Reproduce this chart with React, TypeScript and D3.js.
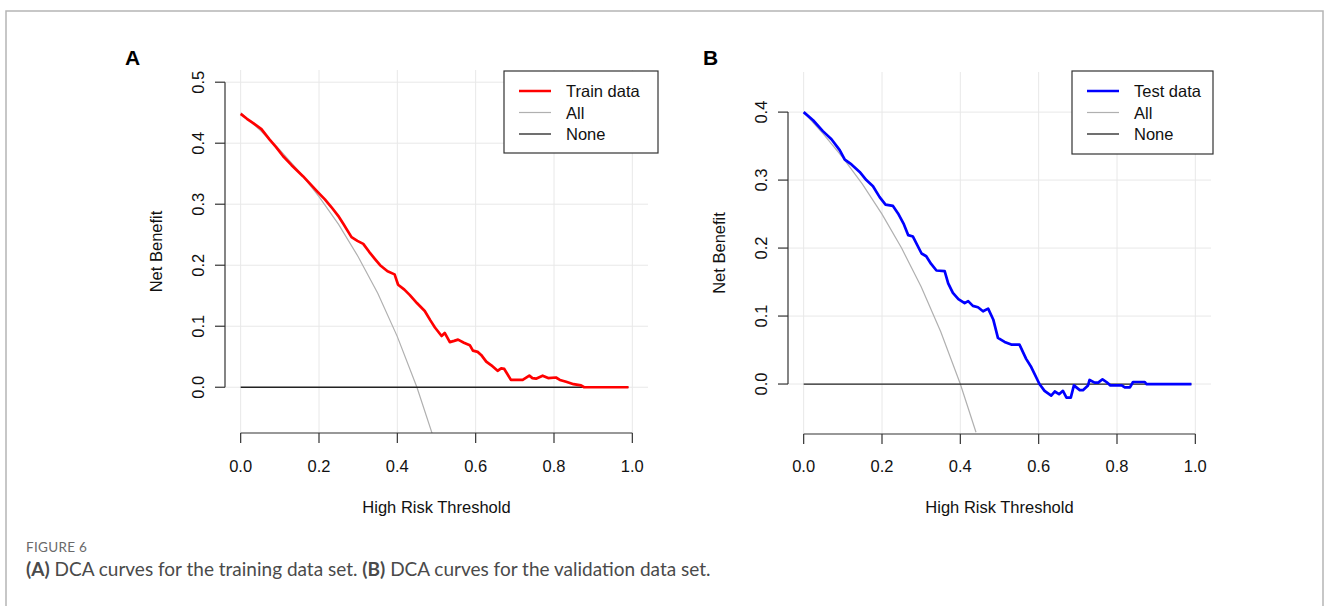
import React from 'react';
import * as d3 from 'd3';

// thresholds / net benefit
const xTicks = [0, 0.2, 0.4, 0.6, 0.8, 1.0];
const yTicksTrain = [0, 0.1, 0.2, 0.3, 0.4, 0.5];
const yTicksTest = [0, 0.1, 0.2, 0.3, 0.4];

const trainModel: [number, number][] = [
  [0, 0.448], [0.016, 0.44], [0.032, 0.433], [0.053, 0.423], [0.074, 0.406], [0.09, 0.394],
  [0.108, 0.379], [0.13, 0.364], [0.159, 0.346], [0.178, 0.333], [0.194, 0.322], [0.215, 0.308],
  [0.232, 0.295], [0.249, 0.281], [0.262, 0.268], [0.283, 0.246], [0.298, 0.24], [0.313, 0.235],
  [0.328, 0.222], [0.343, 0.21], [0.356, 0.2], [0.375, 0.19], [0.393, 0.185], [0.402, 0.168],
  [0.418, 0.16], [0.432, 0.151], [0.45, 0.138], [0.47, 0.125], [0.484, 0.11], [0.496, 0.098],
  [0.513, 0.084], [0.521, 0.089], [0.534, 0.074], [0.545, 0.076], [0.555, 0.078], [0.57, 0.073],
  [0.585, 0.069], [0.593, 0.06], [0.605, 0.058], [0.614, 0.053], [0.627, 0.042], [0.64, 0.036],
  [0.656, 0.027], [0.665, 0.031], [0.673, 0.03], [0.69, 0.012], [0.72, 0.012], [0.737, 0.019],
  [0.745, 0.015], [0.754, 0.014], [0.771, 0.019], [0.785, 0.015], [0.805, 0.016], [0.815, 0.012],
  [0.831, 0.009], [0.85, 0.005], [0.869, 0.003], [0.877, 0.0], [0.99, 0.0],
];

const trainAll: [number, number][] = [
  [0, 0.45], [0.05, 0.421], [0.1, 0.389], [0.15, 0.353], [0.2, 0.3125], [0.25, 0.267],
  [0.3, 0.214], [0.35, 0.154], [0.4, 0.083], [0.45, 0.0], [0.49, -0.078],
];

const testModel: [number, number][] = [
  [0, 0.4], [0.024, 0.388], [0.049, 0.372], [0.071, 0.36], [0.092, 0.344], [0.105, 0.33],
  [0.122, 0.323], [0.143, 0.312], [0.16, 0.3], [0.177, 0.291], [0.194, 0.275], [0.209, 0.264],
  [0.228, 0.262], [0.241, 0.251], [0.255, 0.236], [0.267, 0.219], [0.279, 0.217], [0.301, 0.192],
  [0.313, 0.188], [0.325, 0.177], [0.339, 0.167], [0.36, 0.166], [0.369, 0.148], [0.381, 0.134],
  [0.395, 0.125], [0.411, 0.119], [0.42, 0.122], [0.432, 0.115], [0.445, 0.113], [0.458, 0.107],
  [0.471, 0.111], [0.484, 0.095], [0.496, 0.068], [0.513, 0.062], [0.53, 0.058], [0.551, 0.058],
  [0.568, 0.037], [0.581, 0.025], [0.602, 0.0], [0.615, -0.01], [0.632, -0.017], [0.641, -0.011],
  [0.652, -0.015], [0.662, -0.01], [0.671, -0.02], [0.682, -0.02], [0.69, -0.002], [0.705, -0.009],
  [0.713, -0.009], [0.726, -0.002], [0.73, 0.006], [0.743, 0.002], [0.752, 0.002], [0.763, 0.007],
  [0.773, 0.003], [0.783, -0.002], [0.812, -0.002], [0.82, -0.005], [0.833, -0.005], [0.841, 0.003],
  [0.871, 0.003], [0.875, 0.0], [0.99, 0.0],
];

const testAll: [number, number][] = [
  [0, 0.4], [0.05, 0.368], [0.1, 0.333], [0.15, 0.294], [0.2, 0.25], [0.25, 0.2],
  [0.3, 0.143], [0.35, 0.077], [0.4, 0.0], [0.44, -0.071],
];

const noneLine: [number, number][] = [[0, 0], [0.99, 0]];

const FONT = "'Liberation Sans', Arial, sans-serif";
const FS = 16.5;

type PanelProps = {
  id: string;
  tag: string;
  tagX: number;
  box: { left: number; right: number; top: number; bottom: number };
  yDomain: [number, number];
  yTicks: number[];
  model: [number, number][];
  all: [number, number][];
  color: string;
  name: string;
  legend: { x: number; y: number; w: number; h: number };
};

const Panel = ({ id, tag, tagX, box, yDomain, yTicks, model, all, color, name, legend }: PanelProps) => {
  const x = d3.scaleLinear().domain([-0.04, 1.04]).range([box.left, box.right]);
  const y = d3.scaleLinear().domain(yDomain).range([box.bottom, box.top]);
  const line = d3.line<[number, number]>().x(d => x(d[0])).y(d => y(d[1]));
  const yMax = yTicks[yTicks.length - 1];
  const rows = [
    { label: name, stroke: color, w: 2.5 },
    { label: 'All', stroke: '#b0b0b0', w: 1.2 },
    { label: 'None', stroke: '#222', w: 1.3 },
  ];

  return (
    <g fontFamily={FONT}>
      <defs>
        <clipPath id={`clip-${id}`}>
          <rect x={box.left} y={box.top} width={box.right - box.left} height={box.bottom - box.top} />
        </clipPath>
      </defs>
      <text x={tagX} y={65} fontSize={21} fontWeight="bold" fill="#000">{tag}</text>

      {/* grid */}
      {xTicks.map(t => (
        <line key={'gx' + t} x1={x(t)} x2={x(t)} y1={box.top} y2={box.bottom} stroke="#e8e8e8" strokeWidth={1} />
      ))}
      {yTicks.map(t => (
        <line key={'gy' + t} x1={box.left} x2={box.right} y1={y(t)} y2={y(t)} stroke="#e8e8e8" strokeWidth={1} />
      ))}

      {/* curves */}
      <g clipPath={`url(#clip-${id})`}>
        <path d={line(all) || ''} fill="none" stroke="#b0b0b0" strokeWidth={1.2} />
        <path d={line(noneLine) || ''} fill="none" stroke="#222" strokeWidth={1.3} />
        <path d={line(model) || ''} fill="none" stroke={color} strokeWidth={2.7} strokeLinejoin="round" />
      </g>

      {/* y axis */}
      <line x1={box.left} x2={box.left} y1={y(0)} y2={y(yMax)} stroke="#333" strokeWidth={1.2} />
      {yTicks.map(t => (
        <g key={'yt' + t}>
          <line x1={box.left - 10} x2={box.left} y1={y(t)} y2={y(t)} stroke="#333" strokeWidth={1.2} />
          <text
            transform={`translate(${box.left - 21},${y(t)}) rotate(-90)`}
            textAnchor="middle"
            fontSize={FS}
            fill="#111"
          >
            {t.toFixed(1)}
          </text>
        </g>
      ))}
      <text
        transform={`translate(${box.left - 63},${(box.top + box.bottom) / 2}) rotate(-90)`}
        textAnchor="middle"
        fontSize={FS}
        fill="#111"
      >
        Net Benefit
      </text>

      {/* x axis */}
      <line x1={x(0)} x2={x(1)} y1={box.bottom} y2={box.bottom} stroke="#333" strokeWidth={1.2} />
      {xTicks.map(t => (
        <g key={'xt' + t}>
          <line x1={x(t)} x2={x(t)} y1={box.bottom} y2={box.bottom + 10} stroke="#333" strokeWidth={1.2} />
          <text x={x(t)} y={472} textAnchor="middle" fontSize={FS} fill="#111">{t.toFixed(1)}</text>
        </g>
      ))}
      <text x={(box.left + box.right) / 2} y={513} textAnchor="middle" fontSize={FS} fill="#111">
        High Risk Threshold
      </text>

      {/* legend */}
      <rect x={legend.x} y={legend.y} width={legend.w} height={legend.h} fill="#fff" stroke="#333" strokeWidth={1.2} />
      {rows.map((r, i) => {
        const ry = legend.y + 20 + i * 21.5;
        return (
          <g key={r.label}>
            <line x1={legend.x + 15} x2={legend.x + 47} y1={ry} y2={ry} stroke={r.stroke} strokeWidth={r.w} />
            <text x={legend.x + 62} y={ry + 6} fontSize={FS} fill="#111">{r.label}</text>
          </g>
        );
      })}
    </g>
  );
};

export default function App() {
  return (
    <svg
      width={1330}
      height={606}
      style={{ position: 'absolute', left: 0, top: 0, display: 'block', background: '#fff' }}
    >
      <rect x={0} y={0} width={1330} height={606} fill="#fff" />
      {/* figure frame */}
      <path d="M6,606 V11 H1323 V606" fill="none" stroke="#b5b5b5" strokeWidth={1.5} />

      <Panel
        id="a"
        tag="A"
        tagX={125}
        box={{ left: 225, right: 648, top: 70, bottom: 433 }}
        yDomain={[-0.075, 0.52]}
        yTicks={yTicksTrain}
        model={trainModel}
        all={trainAll}
        color="#ff0000"
        name="Train data"
        legend={{ x: 504, y: 71, w: 154, h: 82 }}
      />
      <Panel
        id="b"
        tag="B"
        tagX={703}
        box={{ left: 788, right: 1211, top: 72, bottom: 434 }}
        yDomain={[-0.0735, 0.459]}
        yTicks={yTicksTest}
        model={testModel}
        all={testAll}
        color="#0000ff"
        name="Test data"
        legend={{ x: 1072, y: 71, w: 141, h: 83 }}
      />

      {/* caption */}
      <text x={26} y={552} fontFamily="Lato, 'Open Sans', sans-serif" fontSize={13.5} fill="#6a6a6a" letterSpacing={0.3}>
        FIGURE 6
      </text>
      <text x={26} y={576} fontFamily="Lato, 'Open Sans', sans-serif" fontSize={19} fill="#4a4a4a">
        <tspan fontWeight="bold">(A)</tspan>
        <tspan> DCA curves for the training data set. </tspan>
        <tspan fontWeight="bold">(B)</tspan>
        <tspan> DCA curves for the validation data set.</tspan>
      </text>
    </svg>
  );
}
